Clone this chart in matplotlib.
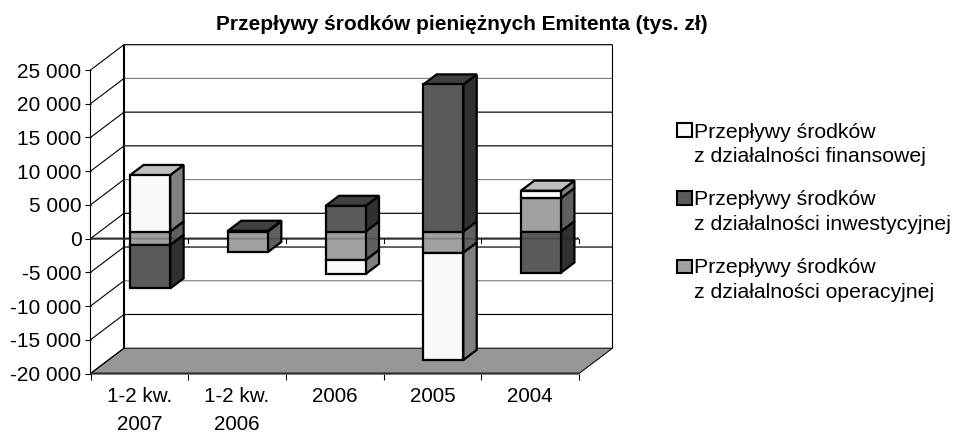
import matplotlib
matplotlib.use("Agg")
import matplotlib.pyplot as plt
from matplotlib.patches import Polygon, Rectangle

plt.rcParams['font.family'] = ['Liberation Sans', 'DejaVu Sans']

categories = ["1-2 kw.\n2007", "1-2 kw.\n2006", "2006", "2005", "2004"]
operating = [-2020, -3050, -4250, -3150, 4950]
investing = [-6420, 100, 3800, 21800, -6100]
financial = [8370, 0, -2050, -15900, 1100]
series_names = ["Przepływy środków\nz działalności finansowej",
                "Przepływy środków\nz działalności inwestycyjnej",
                "Przepływy środków\nz działalności operacyjnej"]
y_ticks = [-20000, -15000, -10000, -5000, 0, 5000, 10000, 15000, 20000, 25000]
y_labels = ["-20 000", "-15 000", "-10 000", "-5 000", "0", "5 000",
            "10 000", "15 000", "20 000", "25 000"]
faint_gridlines = [-10000, 5000, 20000]

W, H = 957, 432
fig = plt.figure(figsize=(W / 100, H / 100), dpi=100)
LEFT, RIGHT, TOP, BOTTOM = 90.5, 579.0, 70.0, 373.5
ax = fig.add_axes([LEFT / W, 1 - BOTTOM / H, (RIGHT - LEFT) / W, (BOTTOM - TOP) / H])
ax.set_xlim(0, 5)
ax.set_ylim(-20000, 25000)
ax.set_facecolor("none")
for s in ax.spines.values():
    s.set_visible(False)

# Oblique projection: one unit of depth moves a point right and up
DX = 33.5 / ((RIGHT - LEFT) / 5)
DY = 25.3 / ((BOTTOM - TOP) / 45000)


def proj(x, v, d=0.0):
    return x + d * DX, v + d * DY


def poly(points, fc, ec="black", lw=0.75, z=1):
    ax.add_patch(Polygon([proj(*p) for p in points], closed=True, facecolor=fc,
                         edgecolor=ec, linewidth=lw, zorder=z, clip_on=False,
                         joinstyle="miter"))


def line(points, color="black", lw=0.75, z=1.5, alpha=None):
    pts = [proj(*p) for p in points]
    ax.plot([p[0] for p in pts], [p[1] for p in pts], color=color, lw=lw,
            zorder=z, clip_on=False, alpha=alpha, solid_capstyle="butt",
            snap=False)


# Floor and walls
vmin, vmax = y_ticks[0], y_ticks[-1]
poly([(0, vmin, 0), (5, vmin, 0), (5, vmin, 1), (0, vmin, 1)], "#969696", lw=0.75, z=1)
line([(0, vmin, 0), (5, vmin, 0)], color="#303030", lw=1.6, z=1.6)
line([(0, vmin, 0), (0, vmax, 0)], lw=0.8)
line([(0, vmin, 1), (0, vmax, 1)], lw=1.5)
line([(5, vmin, 1), (5, vmax, 1)], lw=0.8)
for v in y_ticks:
    line([(0, v, 0), (0, v, 1)], lw=0.8)
    if v > vmin:
        shade = "#808080" if v in faint_gridlines else "black"
        line([(0, v, 1), (5, v, 1)], color=shade, lw=0.85, z=1.2)

# Zero axis running through the front plane, with its category ticks
line([(0, 0, 0), (5, 0, 0)], color="#383838", lw=1.5, z=1.7)
for i in range(1, 6):
    ax.plot([i, i], [0, -720], color="black", lw=0.7, zorder=1.7, clip_on=False)

# Stacked boxes
FRONT_FACE = {"op": "#a0a0a0", "inv": "#5a5a5a", "fin": "#f9f9f9"}
SIDE_FACE = {"op": "#606060", "inv": "#303030", "fin": "#808080"}
TOP_FACE = {"op": "#808080", "inv": "#404040", "fin": "#bebebe"}
D0, D1 = 0.28, 0.68
BAR_W = 0.41
OFFSET = 0.31

for i in range(len(categories)):
    x0, x1 = i + OFFSET, i + OFFSET + BAR_W
    stacks = [("op", operating[i]), ("inv", investing[i]), ("fin", financial[i])]
    pos, neg = 0.0, 0.0
    segments = []
    for key, val in stacks:
        if val >= 0:
            segments.append((key, pos, pos + val))
            pos += val
        else:
            segments.append((key, neg + val, neg))
            neg += val
    top_key = [k for k, v in stacks if v > 0][-1]
    for key, lo, hi in segments:
        if lo == hi:
            continue
        poly([(x1, lo, D0), (x1, lo, D1), (x1, hi, D1), (x1, hi, D0)],
             SIDE_FACE[key], lw=1.6, z=2)
    for key, lo, hi in segments:
        if lo == hi:
            continue
        poly([(x0, lo, D0), (x1, lo, D0), (x1, hi, D0), (x0, hi, D0)],
             FRONT_FACE[key], lw=1.6, z=2.2)
    poly([(x0, pos, D0), (x1, pos, D0), (x1, pos, D1), (x0, pos, D1)],
         TOP_FACE[top_key], lw=1.6, z=2.1)

# The zero axis shows faintly across the boxes
line([(0, 0, 0), (5, 0, 0)], color="black", lw=1.2, z=3, alpha=0.22)

# Tick labels come from the axes themselves
ax.set_yticks(y_ticks, y_labels)
ax.set_xticks([i + 0.5 for i in range(5)], categories)
ax.set_xticks(range(6), minor=True)
ax.tick_params(axis="y", length=4, width=0.8, pad=2.4, labelsize=15, colors="black")
ax.tick_params(axis="x", which="major", length=0, pad=10, labelsize=14.9)
ax.tick_params(axis="x", which="minor", length=4.5, width=0.8)
for t in ax.get_xticklabels():
    t.set_linespacing(1.55)

fig.text(461.5 / W, 1 - 29.5 / H, "Przepływy środków pieniężnych Emitenta (tys. zł)",
         ha="center", va="baseline", fontsize=15, fontweight="bold")

# Legend block: swatch top and second-line baseline for each entry
legend_rows = [(123, 162.3, FRONT_FACE["fin"]),
               (191, 229.5, FRONT_FACE["inv"]),
               (259.5, 297.7, FRONT_FACE["op"])]
for (y, base, color), name in zip(legend_rows, series_names):
    fig.add_artist(Rectangle((676.5 / W, 1 - (y + 13.5) / H), 15 / W, 13.5 / H, transform=fig.transFigure,
                             facecolor=color, edgecolor="black", linewidth=1.5))
    fig.text(694.5 / W, 1 - base / H, name, ha="left", va="baseline", fontsize=15.35, linespacing=1.35)

fig.savefig("out.png", dpi=100)
